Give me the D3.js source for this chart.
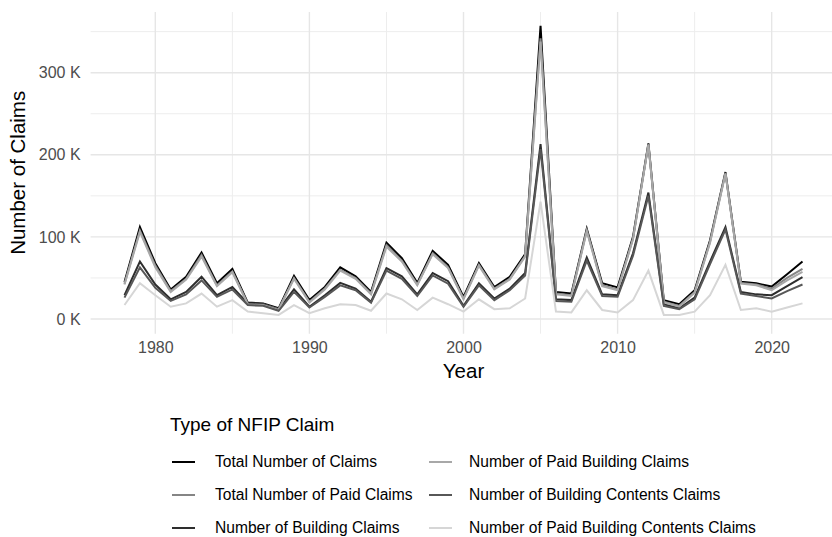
<!DOCTYPE html>
<html lang="en">
<head>
<meta charset="utf-8">
<title>NFIP Claims by Year</title>
<script src="https://d3js.org/d3.v7.min.js"></script>
<style>
  body { margin: 0; background: #fff; }
  text { font-family: "Liberation Sans", Arial, sans-serif; }
</style>
</head>
<body>
<script>
// years 1978 - 2022
var years = d3.range(1978, 2023);

// values in thousands of claims
var totalClaims = [45,112,68,36,51.5,81,43.5,61,20,19,13,52.5,23,39,63,52,33,93,74,44,83,66,27,68,39,51.5,79,357,33,31,110,43.5,38.5,100,214,23,18,35,96,179,45.5,43.5,39.5,54.5,70];
var totalPaid = [43,108,65,34,49,78,41,58,19,18,12,50,21,37,60,50,31,90,71,42,80,63,25,66,37,49,77,342,31,29,108,41,36,98,213,21,16,33,94,178,44,42,37,50,61];
var buildingClaims = [29,70,42,24,33,51.5,29,39,19,18,11,36,15,29,44,37,21,62,52,30,56,46,16,43.5,25,37,56,213,24,23,75,30,29,80,154,18,13,26,70,112,33,30,29,40,51];
var paidBuilding = [42,106,63,33,48,76,40,57,18,17,11,49,20,36,59,49,30,88,70,41,79,62,24,65,36,48,76,338,30,28,107,40,35,97,212,20,15,32,93,177,43,41,35,47,57.5];
var contentsClaims = [26,63,38,22,30,47,27,36,17,16,10,33,14,27,41,35,20,59,49,28,53,43,15,41,23,35,53,207,22,21,71,28,27,77,150,16,12,24,67,109,31,28,25,34,42];
var paidContents = [17,43.5,29,15,19,31,15,23,9,7,5,17,7,13,18,17,10,31,24,11,26,18,9,24,12,13,25,143,9,8,35,11,8,23,59,5,5,9,29,66,11,13,9,14,19];

var seriesNames = ["Total Number of Claims", "Total Number of Paid Claims", "Number of Building Claims",
                   "Number of Paid Building Claims", "Number of Building Contents Claims", "Number of Paid Building Contents Claims"];
var seriesValues = [totalClaims, totalPaid, buildingClaims, paidBuilding, contentsClaims, paidContents];
var seriesColors = ["#000000", "#858585", "#2e2e2e", "#a8a8a8", "#575757", "#d6d6d6"];

var yTicks = [0, 100000, 200000, 300000];
var yMinor = [50000, 150000, 250000, 350000];
var xTicks = [1980, 1990, 2000, 2010, 2020];
var xMinor = [1985, 1995, 2005, 2015];

var w = 832, h = 537;
var panelTop = 12, panelBottom = 333.7;

var svg = d3.select("body").append("svg").attr("width", w).attr("height", h);

// scales (ggplot style 5% padding)
var xScale = d3.scaleLinear().domain([1975.8, 2024.2]).range([90.6, 836.4]);
var yScale = d3.scaleLinear().domain([0, 350000]).range([319, 31.65]);

// grid
var grid = svg.append("g");
grid.selectAll("line.hmin").data(yMinor).enter().append("line")
  .attr("x1", 90.6).attr("x2", w).attr("y1", d => yScale(d)).attr("y2", d => yScale(d))
  .attr("stroke", "#ededed").attr("stroke-width", 1);
grid.selectAll("line.vmin").data(xMinor).enter().append("line")
  .attr("y1", panelTop).attr("y2", panelBottom).attr("x1", d => xScale(d)).attr("x2", d => xScale(d))
  .attr("stroke", "#ededed").attr("stroke-width", 1);
grid.selectAll("line.hmaj").data(yTicks).enter().append("line")
  .attr("x1", 90.6).attr("x2", w).attr("y1", d => yScale(d)).attr("y2", d => yScale(d))
  .attr("stroke", "#e6e6e6").attr("stroke-width", 1.4);
grid.selectAll("line.vmaj").data(xTicks).enter().append("line")
  .attr("y1", panelTop).attr("y2", panelBottom).attr("x1", d => xScale(d)).attr("x2", d => xScale(d))
  .attr("stroke", "#e6e6e6").attr("stroke-width", 1.4);

// axes
var yAxis = d3.axisLeft(yScale).tickValues(yTicks).tickSize(0).tickPadding(10)
  .tickFormat(d => (d / 1000) + " K");
var gy = svg.append("g").attr("transform", "translate(90.6,0)").call(yAxis);
var xAxis = d3.axisBottom(xScale).tickValues(xTicks).tickSize(0).tickPadding(8).tickFormat(d3.format("d"));
var gx = svg.append("g").attr("transform", `translate(0,${panelBottom})`).call(xAxis);
[gx, gy].forEach(function(g) {
  g.select(".domain").remove();
  g.selectAll("text").attr("fill", "#4d4d4d").style("font-size", "16px")
    .style("font-family", "'Liberation Sans', Arial, sans-serif");
});

// axis titles
svg.append("text").attr("x", xScale(2000)).attr("y", 378).attr("text-anchor", "middle")
  .style("font-size", "20.5px").text("Year");
svg.append("text").attr("transform", `translate(25,${(panelTop + panelBottom) / 2}) rotate(-90)`)
  .attr("text-anchor", "middle").style("font-size", "20.5px").text("Number of Claims");

// lines
var line = d3.line().x((d, i) => xScale(years[i])).y(d => yScale(d * 1000));
svg.append("g").selectAll("path").data(seriesValues).enter().append("path")
  .attr("d", line).attr("fill", "none")
  .attr("stroke", (d, i) => seriesColors[i]).attr("stroke-width", 2)
  .attr("stroke-linejoin", "miter");

// legend
var legend = svg.append("g");
legend.append("text").attr("x", 170).attr("y", 431).style("font-size", "19px").text("Type of NFIP Claim");
var colX = [172, 429];
var rowY = [462, 495, 528];
seriesNames.forEach(function(name, i) {
  var col = Math.floor(i / 3), row = i % 3;
  var g = legend.append("g").attr("transform", `translate(${colX[col]},${rowY[row]})`);
  g.append("line").attr("x1", 0).attr("x2", 23).attr("y1", 0).attr("y2", 0)
    .attr("stroke", seriesColors[i]).attr("stroke-width", 2);
  g.append("text").attr("x", col === 0 ? 43 : 40).attr("y", 0).attr("dy", "0.35em")
    .style("font-size", "15.6px").attr("fill", "#000").text(name);
});
</script>
</body>
</html>
